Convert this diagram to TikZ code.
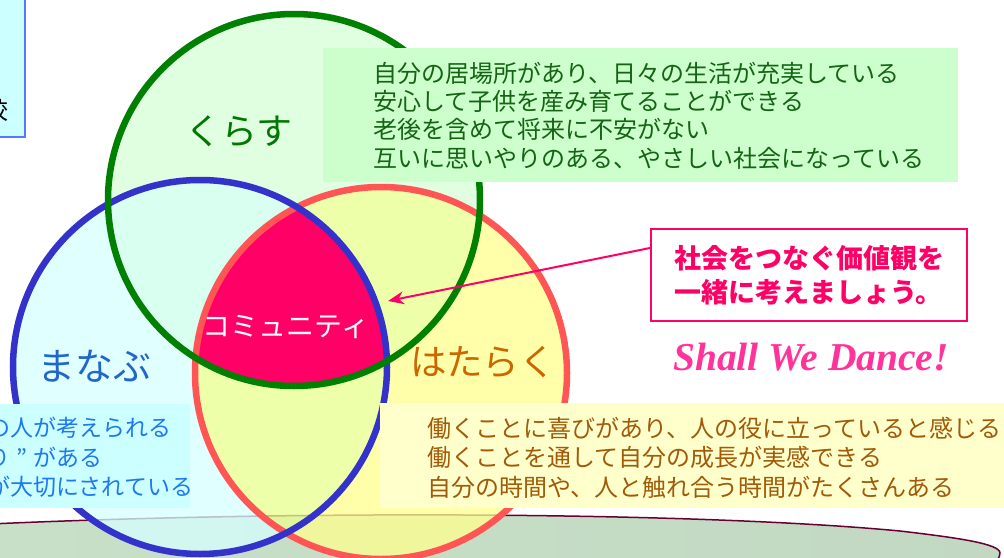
\documentclass[tikz,border=0pt]{standalone}
\usepackage{fontspec}
\setmainfont{Liberation Serif}
\newfontfamily\jp{Noto Sans CJK JP}
\usetikzlibrary{arrows.meta}
\definecolor{cgreen}{RGB}{0,128,0}
\definecolor{cblue}{RGB}{51,51,204}
\definecolor{cred}{RGB}{255,85,85}
\definecolor{fBonly}{RGB}{214,255,255}
\definecolor{fGonly}{RGB}{214,255,214}
\definecolor{fBG}{RGB}{203,255,235}
\definecolor{fRonly}{RGB}{255,255,142}
\definecolor{fRx}{RGB}{232,255,142}
\definecolor{magentaC}{RGB}{255,0,102}
\definecolor{bandL}{RGB}{200,224,200}
\definecolor{bandM}{RGB}{218,250,226}
\definecolor{bandR}{RGB}{194,216,194}
\definecolor{maroonC}{RGB}{102,0,51}
\definecolor{gboxC}{RGB}{204,255,204}
\definecolor{gtextC}{RGB}{20,100,20}
\definecolor{cboxC}{RGB}{204,255,255}
\definecolor{cboxLine}{RGB}{85,120,255}
\definecolor{btextC}{RGB}{30,120,240}
\definecolor{yboxC}{RGB}{255,255,204}
\definecolor{ytextC}{RGB}{160,90,10}
\definecolor{kurasuC}{RGB}{0,119,0}
\definecolor{manabuC}{RGB}{34,102,204}
\definecolor{hatarakuC}{RGB}{204,102,0}
\definecolor{danceC}{RGB}{255,51,153}
\tikzset{
  ring/.style={line width=6.5pt},
  boxfill/.style={inner sep=0pt, outer sep=0pt, anchor=north west},
  jptext/.style={inner sep=0pt, anchor=west, align=left},
  label/.style={inner sep=0pt},
}
\begin{document}
\begin{tikzpicture}[x=1pt,y=-1pt]
\useasboundingbox (0,0) rectangle (1004,557);
\clip (0,0) rectangle (1004,557);
\def\G{(294,200) circle [radius=186pt]}
\def\B{(200,367) circle [radius=187pt]}
\def\R{(381,373) circle [radius=186pt]}
% band (stage)
\path[draw=maroonC, line width=1.5pt, left color=bandL, middle color=bandM, right color=bandR]
  (-10,524) .. controls (300,510) and (700,512) .. (900,531)
  .. controls (960,538) and (1000,544) .. (1000,553)
  .. controls (1000,558) and (996,562) .. (990,566) -- (-10,566) -- cycle;
% circle fills
\begin{scope}[transparency group, opacity=0.75]
  \fill[fBonly] \B;
  \fill[fGonly] \G;
  \begin{scope} \clip \G; \fill[fBG] \B; \end{scope}
  \fill[fRonly] \R;
  \begin{scope} \clip \R; \fill[fRx] \B; \fill[fRx] \G; \end{scope}
\end{scope}
\begin{scope} \clip \R; \clip \B; \fill[magentaC] \G; \end{scope}
% circle strokes
\draw[ring, cred] \R;
\draw[ring, cblue] \B;
\draw[ring, cgreen] \G;
% boxes
\node[boxfill, fill=cboxC, draw=cboxLine, line width=1.5pt, minimum width=27pt, minimum height=139pt] (tlbox) at (-2,-2) {};
\node[inner sep=0pt, anchor=east, font=\jp\fontsize{24}{28}\selectfont] (tlchar) at (9,110) {校};
\node[boxfill, fill=gboxC, minimum width=635pt, minimum height=134pt] (gbox) at (323,48) {};
\node[jptext, text=gtextC, font=\jp\fontsize{24}{28.3}\selectfont] (gtext) at (373,115.5) {%
  自分の居場所があり、日々の生活が充実している\\
  安心して子供を産み育てることができる\\
  老後を含めて将来に不安がない\\
  互いに思いやりのある、やさしい社会になっている};
\node[boxfill, fill=cboxC, minimum width=190pt, minimum height=104pt] (cbox) at (0,404) {};
\node[jptext, text=btextC, font=\jp\fontsize{23}{29.5}\selectfont] (ctext) at (-13,457.5) {%
  の人が考えられる\\
  り\makebox[1em][c]{”}がある\\
  が大切にされている};
\node[boxfill, fill=yboxC, minimum width=630pt, minimum height=105pt] (ybox) at (380,403) {};
\node[jptext, text=ytextC, font=\jp\fontsize{24}{29.5}\selectfont] (ytext) at (427,457.5) {%
  働くことに喜びがあり、人の役に立っていると感じる\\
  働くことを通して自分の成長が実感できる\\
  自分の時間や、人と触れ合う時間がたくさんある};
% labels
\node[label, text=kurasuC, font=\jp\fontsize{36}{40}\selectfont] (kurasu) at (239,131) {くらす};
\node[label, text=manabuC, font=\jp\fontsize{38}{42}\selectfont] (manabu) at (94,366) {まなぶ};
\node[label, text=hatarakuC, font=\jp\fontsize{36.5}{40}\selectfont] (hataraku) at (483,362) {はたらく};
\node[label, text=white, font=\jp\fontsize{28}{32}\selectfont] (comm) at (286,327) {コミュニティ};
% message box and arrow
\node[draw=magentaC, line width=2pt, fill=white, minimum width=316pt, minimum height=92pt, align=left, text=magentaC, inner sep=0pt, font=\jp\bfseries\fontsize{27}{34}\selectfont] (msg) at (809,275)
  {社会をつなぐ価値観を\\一緒に考えましょう。};
\coordinate (tip) at (388,301);
\draw[magentaC, line width=2pt, -{Stealth[length=16pt,width=13pt]}] ([yshift=27pt]msg.west) -- (tip);
\node[label, text=danceC, font=\fontsize{39.5}{43}\selectfont\bfseries\itshape] (dance) at (811,357) {Shall We Dance!};
\end{tikzpicture}
\end{document}
